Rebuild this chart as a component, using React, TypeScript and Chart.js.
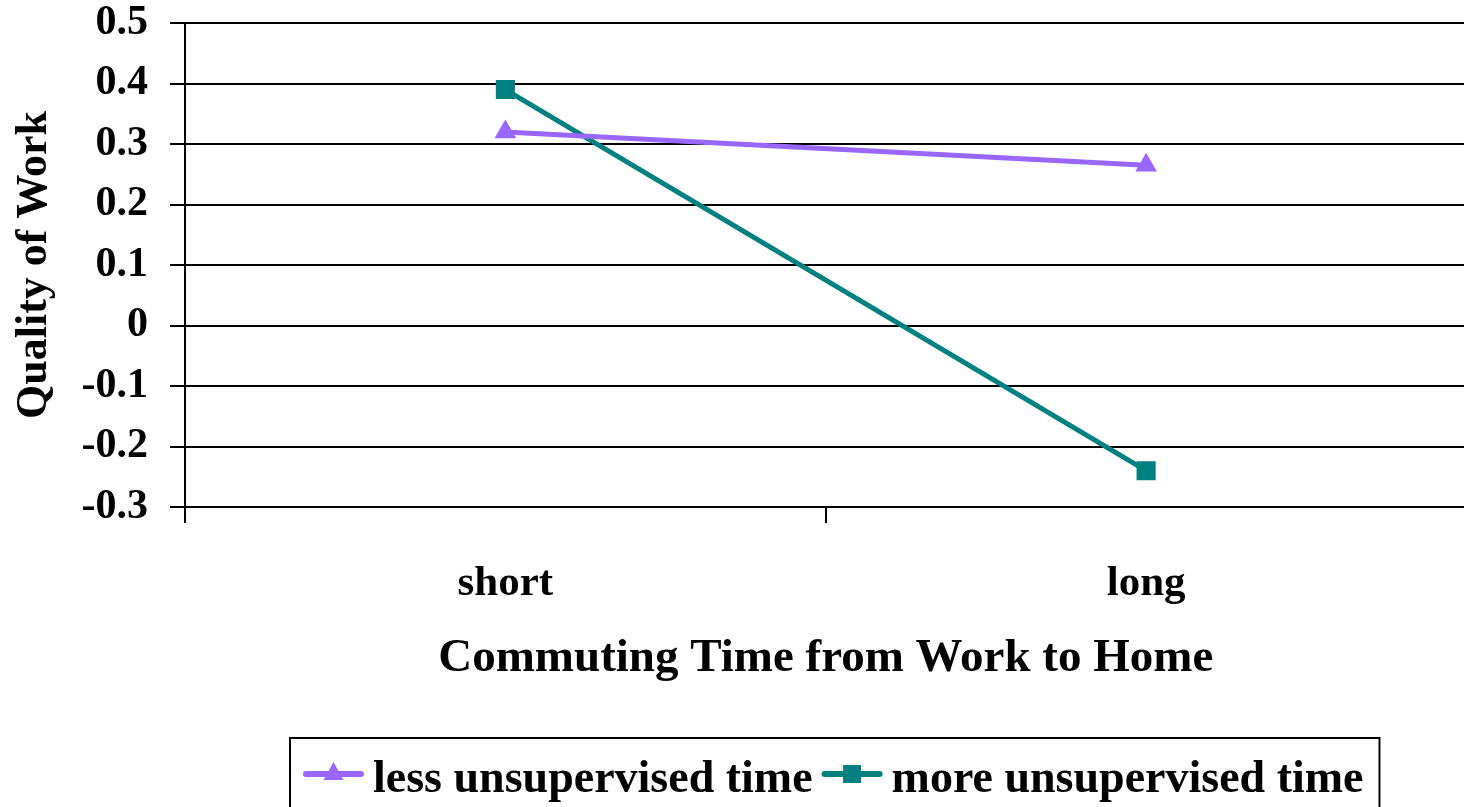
import { useEffect, useRef } from "react";
import { Chart, registerables } from "chart.js";

Chart.register(...registerables);

const categories = ["short", "long"];
const seriesLabels = ["less unsupervised time", "more unsupervised time"];
const lessUnsupervised = [0.32, 0.265];
const moreUnsupervised = [0.39, -0.24];
const yMin = -0.3;
const yMax = 0.5;
const yStep = 0.1;
const xTitle = "Commuting Time from Work to Home";
const yTitle = "Quality of Work";

const FONT = '"Liberation Serif", "Times New Roman", serif';
const PURPLE = "#9966FF";
const TEAL = "#008080";

const boxLegend = {
  id: "boxLegend",
  afterDraw(chart: any) {
    const ctx = chart.ctx as CanvasRenderingContext2D;
    ctx.save();
    ctx.font = `bold 46px ${FONT}`;
    const items = chart.data.datasets.map((ds: any) => ({
      label: ds.label as string,
      color: ds.borderColor as string,
      style: ds.pointStyle as string,
    }));
    const lineLen = 61;
    const gapAfterLine = 9;
    const gapBetween = 9;
    const padL = 13;
    const padR = 16;
    let total = padL + padR;
    items.forEach((it: any, i: number) => {
      total += lineLen + gapAfterLine + ctx.measureText(it.label).width;
      if (i < items.length - 1) total += gapBetween;
    });
    const cx = 835;
    const left = Math.round(cx - total / 2);
    const top = 738;
    ctx.strokeStyle = "#000";
    ctx.lineWidth = 2;
    ctx.strokeRect(left, top, total, 120);
    let x = left + padL;
    const y = 774;
    items.forEach((it: any) => {
      ctx.strokeStyle = it.color;
      ctx.fillStyle = it.color;
      ctx.lineWidth = 6;
      ctx.lineCap = "round";
      ctx.beginPath();
      ctx.moveTo(x + 3, y);
      ctx.lineTo(x + lineLen - 3, y);
      ctx.stroke();
      const mx = x + lineLen / 2;
      ctx.beginPath();
      if (it.style === "triangle") {
        ctx.moveTo(mx, y - 12);
        ctx.lineTo(mx + 10, y + 6);
        ctx.lineTo(mx - 10, y + 6);
        ctx.closePath();
      } else {
        ctx.rect(mx - 9, y - 9, 18, 18);
      }
      ctx.fill();
      x += lineLen + gapAfterLine;
      ctx.fillStyle = "#000";
      ctx.textBaseline = "middle";
      ctx.textAlign = "left";
      ctx.fillText(it.label, x, y + 6);
      x += ctx.measureText(it.label).width + gapBetween;
    });
    ctx.restore();
  },
};

export default function App() {
  const ref = useRef<HTMLCanvasElement | null>(null);

  useEffect(() => {
    if (!ref.current) return;
    const chart = new Chart(ref.current, {
      type: "line",
      data: {
        labels: categories,
        datasets: [
          {
            label: seriesLabels[0],
            data: lessUnsupervised,
            borderColor: PURPLE,
            backgroundColor: PURPLE,
            pointBackgroundColor: PURPLE,
            pointBorderColor: PURPLE,
            pointStyle: "triangle",
            pointRadius: 12.5,
            pointBorderWidth: 0,
            borderWidth: 5,
            tension: 0,
          },
          {
            label: seriesLabels[1],
            data: moreUnsupervised,
            borderColor: TEAL,
            backgroundColor: TEAL,
            pointBackgroundColor: TEAL,
            pointBorderColor: TEAL,
            pointStyle: "rect",
            pointRadius: 13.5,
            pointBorderWidth: 0,
            borderWidth: 5,
            tension: 0,
          },
        ],
      },
      options: {
        responsive: false,
        animation: false,
        layout: { padding: { top: 0, right: 4, bottom: 120, left: 0 } },
        plugins: {
          legend: { display: false },
          tooltip: { enabled: false },
        },
        scales: {
          x: {
            offset: true,
            afterFit: (s: any) => {
              s.height = 180;
            },
            grid: {
              drawOnChartArea: false,
              drawTicks: true,
              tickLength: 16,
              color: "#000",
              lineWidth: 2,
              offset: true,
            },
            border: { display: true, color: "#000", width: 2 },
            ticks: {
              color: "#000",
              font: { family: FONT, size: 43, weight: "bold" },
              padding: 35,
              maxRotation: 0,
            },
            title: {
              display: true,
              text: xTitle,
              color: "#000",
              font: { family: FONT, size: 47, weight: "bold" },
              padding: { top: 0, bottom: 0 },
            },
          },
          y: {
            min: yMin,
            max: yMax,
            afterFit: (s: any) => {
              s.width = 185;
              s.paddingTop = 23;
              s.paddingBottom = 1;
            },
            grid: {
              color: "#000",
              lineWidth: 2,
              drawTicks: true,
              tickLength: 15,
            },
            border: { display: true, color: "#000", width: 2 },
            ticks: {
              stepSize: yStep,
              color: "#000",
              font: { family: FONT, size: 42, weight: "bold" },
              padding: 22,
              callback: (v: any) => {
                const r = Math.round(Number(v) * 10) / 10;
                return r === 0 ? "0" : String(r);
              },
            },
            title: {
              display: true,
              text: yTitle,
              color: "#000",
              font: { family: FONT, size: 44, weight: "bold" },
              padding: { top: 8, bottom: 0 },
            },
          },
        },
      },
      plugins: [boxLegend],
    });
    return () => chart.destroy();
  }, []);

  return (
    <div
      style={{
        position: "fixed",
        left: 0,
        top: 0,
        width: 1464,
        height: 807,
        overflow: "hidden",
        background: "#fff",
      }}
    >
      <canvas ref={ref} width={1480} height={807} style={{ display: "block" }} />
    </div>
  );
}
